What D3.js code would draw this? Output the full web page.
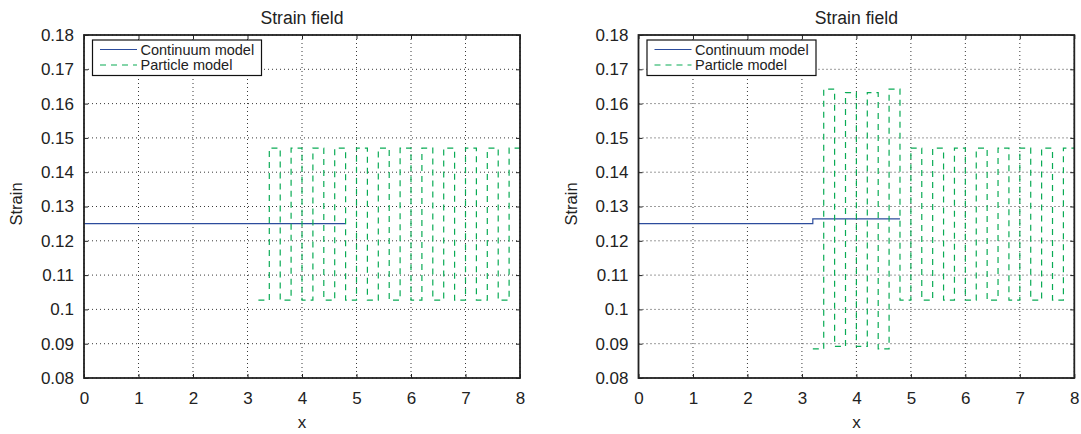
<!DOCTYPE html>
<html>
<head>
<meta charset="utf-8">
<script src="https://cdn.jsdelivr.net/npm/d3@7"></script>
<style>
  body { margin: 0; background: #fff; }
  svg { font-family: "Liberation Sans", Arial, Helvetica, sans-serif; }
</style>
</head>
<body>
<div id="chart"></div>
<script>
// axis ticks
const xTicks = [0, 1, 2, 3, 4, 5, 6, 7, 8];
const yTicks = [0.08, 0.09, 0.1, 0.11, 0.12, 0.13, 0.14, 0.15, 0.16, 0.17, 0.18];
const yTickLabels = ["0.08", "0.09", "0.1", "0.11", "0.12", "0.13", "0.14", "0.15", "0.16", "0.17", "0.18"];

// continuum model (step breakpoints and strain per segment)
const contEdgesA = [0, 4.8];
const contValuesA = [0.125];
const contEdgesB = [0, 3.2, 4.8];
const contValuesB = [0.125, 0.1264];

// particle model: bond edges and strain per bond
const partEdges = [3.2, 3.4, 3.6, 3.8, 4.0, 4.2, 4.4, 4.6, 4.8, 5.0, 5.2, 5.4, 5.6,
                   5.8, 6.0, 6.2, 6.4, 6.6, 6.8, 7.0, 7.2, 7.4, 7.6, 7.8, 8.0];
const partValuesA = [0.1027, 0.147, 0.1027, 0.147, 0.1027, 0.147, 0.1027, 0.147,
                     0.1027, 0.147, 0.1027, 0.147, 0.1027, 0.147, 0.1027, 0.147,
                     0.1027, 0.147, 0.1027, 0.147, 0.1027, 0.147, 0.1027, 0.147];
const partValuesB = [0.0885, 0.1642, 0.0892, 0.1632, 0.0892, 0.1632, 0.0885, 0.1642,
                     0.1027, 0.147, 0.1027, 0.147, 0.1027, 0.147, 0.1027, 0.147,
                     0.1027, 0.147, 0.1027, 0.147, 0.1027, 0.147, 0.1027, 0.147];

const titles = ["Strain field", "Strain field"];
const legendNames = ["Continuum model", "Particle model"];

const contColor = "#2c4c9c";
const partColor = "#0aab55";

const svg = d3.select("#chart").append("svg")
    .attr("width", 1081)
    .attr("height", 434);

function stepPoints(edges, values) {
    let pts = values.map((v, i) => [edges[i], v]);
    pts.push([edges[edges.length - 1], values[values.length - 1]]);
    return pts;
}

function drawPanel(left, right, title, cEdges, cValues, pValues) {
    const top = 35, bottom = 378;
    let x = d3.scaleLinear().domain([0, 8]).range([left, right]);
    let y = d3.scaleLinear().domain([0.08, 0.18]).range([bottom, top]);
    let g = svg.append("g");

    // dotted grid
    g.append("g").selectAll("line").data(xTicks).enter().append("line")
        .attr("x1", d => x(d)).attr("x2", d => x(d))
        .attr("y1", top).attr("y2", bottom)
        .style("stroke", "#222").style("stroke-width", 0.9)
        .style("stroke-dasharray", "1,3");
    g.append("g").selectAll("line").data(yTicks).enter().append("line")
        .attr("x1", left).attr("x2", right)
        .attr("y1", d => y(d)).attr("y2", d => y(d))
        .style("stroke", "#222").style("stroke-width", 0.9)
        .style("stroke-dasharray", "1,3");

    let line = d3.line().x(d => x(d[0])).y(d => y(d[1])).curve(d3.curveStepAfter);

    g.append("path")
        .datum(stepPoints(cEdges, cValues))
        .attr("d", line)
        .style("fill", "none").style("stroke", contColor).style("stroke-width", 1.2);

    g.append("path")
        .datum(stepPoints(partEdges, pValues))
        .attr("d", line)
        .style("fill", "none").style("stroke", partColor).style("stroke-width", 1.2)
        .style("stroke-dasharray", "6,5");

    // axes with inward ticks
    let xb = g.append("g").attr("transform", "translate(0," + bottom + ")")
        .call(d3.axisBottom(x).tickValues(xTicks).tickSizeInner(-4).tickSizeOuter(0).tickPadding(14));
    let yl = g.append("g").attr("transform", "translate(" + left + ",0)")
        .call(d3.axisLeft(y).tickValues(yTicks).tickFormat((d, i) => yTickLabels[i])
            .tickSizeInner(-4).tickSizeOuter(0).tickPadding(10));
    let xt = g.append("g").attr("transform", "translate(0," + top + ")")
        .call(d3.axisTop(x).tickValues(xTicks).tickFormat("").tickSizeInner(-4).tickSizeOuter(0));
    let yr = g.append("g").attr("transform", "translate(" + right + ",0)")
        .call(d3.axisRight(y).tickValues(yTicks).tickFormat("").tickSizeInner(-4).tickSizeOuter(0));
    [xb, yl, xt, yr].forEach(a => {
        a.select(".domain").remove();
        a.selectAll("line").style("stroke", "#222").style("stroke-width", 1);
        a.selectAll("text").style("font-size", "17px").style("fill", "#222")
            .style("font-family", "'Liberation Sans', Arial, sans-serif");
    });

    g.append("rect")
        .attr("x", left).attr("y", top)
        .attr("width", right - left).attr("height", bottom - top)
        .style("fill", "none").style("stroke", "#222").style("stroke-width", 1.8);

    // legend
    let lg = g.append("g").attr("transform", "translate(" + left + ",0)");
    lg.append("rect")
        .attr("x", 8.5).attr("y", 40).attr("width", 169).attr("height", 35.5)
        .style("fill", "#fff").style("stroke", "#111").style("stroke-width", 1.2);
    let rows = [54.5, 70];
    lg.append("line").attr("x1", 16).attr("x2", 53).attr("y1", rows[0] - 5).attr("y2", rows[0] - 5)
        .style("stroke", contColor).style("stroke-width", 1.2);
    lg.append("line").attr("x1", 16).attr("x2", 53).attr("y1", rows[1] - 5).attr("y2", rows[1] - 5)
        .style("stroke", partColor).style("stroke-width", 1.2).style("stroke-dasharray", "6,5");
    lg.selectAll("text.leg").data(legendNames).enter().append("text")
        .attr("x", 56.5).attr("y", (d, i) => rows[i])
        .style("font-size", "14.5px").style("fill", "#222")
        .text(d => d);

    // title and labels
    g.append("text")
        .attr("x", (left + right) / 2).attr("y", 24)
        .attr("text-anchor", "middle")
        .style("font-size", "17.6px").style("fill", "#222")
        .text(title);
    g.append("text")
        .attr("x", (left + right) / 2).attr("y", 428)
        .attr("text-anchor", "middle")
        .style("font-size", "17px").style("fill", "#222")
        .text("x");
    g.append("text")
        .attr("transform", "translate(" + (left - 62) + "," + 204 + ") rotate(-90)")
        .attr("text-anchor", "middle")
        .style("font-size", "16.5px").style("fill", "#222")
        .text("Strain");
}

drawPanel(84, 520, titles[0], contEdgesA, contValuesA, partValuesA);
drawPanel(638.5, 1074.3, titles[1], contEdgesB, contValuesB, partValuesB);
</script>
</body>
</html>
